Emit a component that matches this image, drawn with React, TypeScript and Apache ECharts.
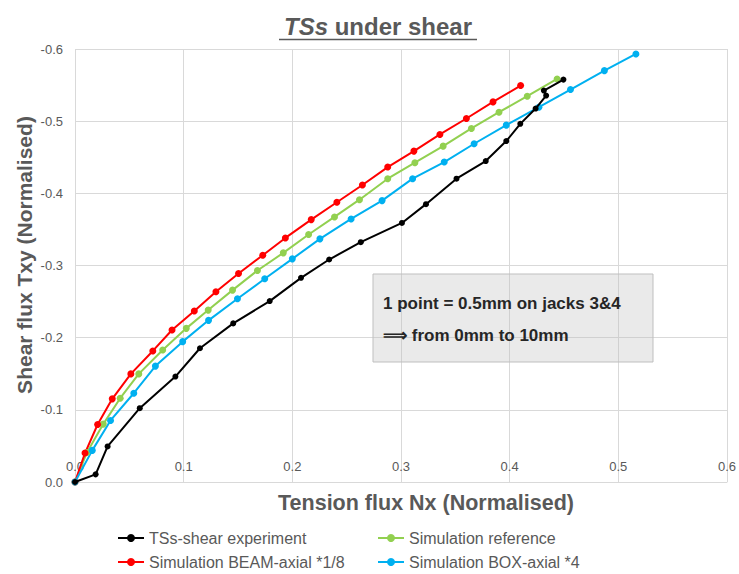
import React, { useEffect, useRef } from "react";
import * as echarts from "echarts";

// ---- Data (x = tension flux Nx, y = shear flux Txy), normalised ----
const experimentData: [number, number][] = [
  [0, 0], [0.019, -0.0106], [0.030, -0.0493], [0.0596, -0.1023], [0.0924, -0.1461],
  [0.115, -0.1853], [0.1456, -0.2198], [0.1792, -0.2507], [0.208, -0.2829],
  [0.2339, -0.3083], [0.263, -0.3323], [0.3009, -0.359], [0.323, -0.385],
  [0.3511, -0.4203], [0.378, -0.4447], [0.3969, -0.4724], [0.4098, -0.4963],
  [0.4239, -0.5175], [0.4336, -0.5355], [0.4315, -0.5424], [0.4495, -0.5576],
];
const referenceData: [number, number][] = [
  [0, 0], [0.011, -0.041], [0.026, -0.0802], [0.0416, -0.1161], [0.0587, -0.1498],
  [0.0807, -0.1829], [0.1024, -0.2129], [0.1226, -0.2382], [0.145, -0.2659],
  [0.1679, -0.2931], [0.1917, -0.3175], [0.215, -0.3429], [0.2388, -0.3673],
  [0.2618, -0.3912], [0.2878, -0.4203], [0.3128, -0.4424], [0.3388, -0.4654],
  [0.3648, -0.4899], [0.3902, -0.5124], [0.4162, -0.5346], [0.4437, -0.5585],
];
const beamData: [number, number][] = [
  [0, 0], [0.0092, -0.0401], [0.0208, -0.0797], [0.0343, -0.1152], [0.0514, -0.1498],
  [0.0716, -0.1816], [0.0893, -0.2106], [0.1098, -0.2369], [0.1297, -0.2636],
  [0.1505, -0.2889], [0.1728, -0.3143], [0.1936, -0.3382], [0.2174, -0.3636],
  [0.241, -0.3876], [0.2645, -0.4115], [0.2878, -0.4364], [0.3119, -0.4585],
  [0.3358, -0.4816], [0.3602, -0.5037], [0.3847, -0.5267], [0.4101, -0.5493],
];
const boxData: [number, number][] = [
  [0, 0], [0.0159, -0.0438], [0.0327, -0.0853], [0.0541, -0.123], [0.074, -0.1606],
  [0.0991, -0.1945], [0.1229, -0.224], [0.1495, -0.2539], [0.1746, -0.2816],
  [0.2, -0.3092], [0.2254, -0.3369], [0.2541, -0.3645], [0.2826, -0.3899],
  [0.3107, -0.4203], [0.3398, -0.4433], [0.3673, -0.4687], [0.3969, -0.4945],
  [0.4269, -0.5194], [0.456, -0.5438], [0.4872, -0.57], [0.5162, -0.5931],
];

const seriesNames = [
  "TSs-shear experiment",
  "Simulation reference",
  "Simulation BEAM-axial *1/8",
  "Simulation BOX-axial *4",
];
const seriesColors = ["#000000", "#92d050", "#ff0000", "#00b0f0"];

const xTitle = "Tension flux Nx (Normalised)";
const yTitle = "Shear flux Txy (Normalised)";
const noteLines = ["1 point = 0.5mm on jacks 3&4", "\u27f9 from 0mm to 10mm"];

const FONT = "'Liberation Sans', Arial, sans-serif";
const GREY = "#595959";

// legend slot positions (left, top) for each series, in series order
const legendSlots: [number, number][] = [
  [117, 530],
  [377, 530],
  [117, 554],
  [377, 554],
];

export default function App() {
  const ref = useRef<HTMLDivElement>(null);

  useEffect(() => {
    if (!ref.current) return;
    const chart = echarts.init(ref.current, undefined, { renderer: "svg" });
    const datasets = [experimentData, referenceData, beamData, boxData];

    chart.setOption({
      animation: false,
      backgroundColor: "#ffffff",
      textStyle: { fontFamily: FONT },
      grid: { left: 75, right: 10, top: 49, bottom: 92, containLabel: false },
      xAxis: {
        type: "value",
        min: 0,
        max: 0.6,
        interval: 0.1,
        axisLine: { show: true, lineStyle: { color: "#d9d9d9", width: 1 } },
        axisTick: { show: false },
        splitLine: { show: true, lineStyle: { color: "#d9d9d9", width: 1 } },
        axisLabel: {
          inside: true,
          margin: 9,
          color: GREY,
          fontSize: 13,
          fontFamily: FONT,
          formatter: (v: number) => v.toFixed(1),
        },
      },
      yAxis: {
        type: "value",
        min: -0.6,
        max: 0,
        interval: 0.1,
        inverse: true,
        axisLine: { show: false },
        axisTick: { show: false },
        splitLine: { show: true, lineStyle: { color: "#d9d9d9", width: 1 } },
        axisLabel: {
          margin: 12,
          color: GREY,
          fontSize: 13,
          fontFamily: FONT,
          formatter: (v: number) => (Math.abs(v) < 1e-9 ? "0.0" : v.toFixed(1)),
        },
      },
      legend: seriesNames.map((n, i) => ({
        data: [n],
        left: legendSlots[i][0],
        top: legendSlots[i][1],
        itemWidth: 26,
        itemHeight: 10,
        itemGap: 0,
        padding: 0,
        textStyle: { color: GREY, fontSize: 16, fontFamily: FONT },
      })),
      series: datasets.map((d, i) => ({
        name: seriesNames[i],
        type: "line",
        data: d,
        symbol: "circle",
        symbolSize: i === 0 ? 6 : 7,
        showSymbol: true,
        lineStyle: { color: seriesColors[i], width: 2 },
        itemStyle: { color: seriesColors[i] },
        z: i === 0 ? 5 : 3,
      })),
      graphic: [
        {
          type: "text",
          x: 378,
          y: 26,
          style: {
            text: "{a|TSs} under shear",
            rich: {
              a: {
                fontStyle: "italic",
                fontWeight: "bold",
                fontSize: 24,
                fontFamily: FONT,
                fill: GREY,
              },
            },
            fontSize: 24,
            fontWeight: "bold",
            fontFamily: FONT,
            fill: GREY,
            align: "center",
            verticalAlign: "middle",
          },
        },
        {
          type: "line",
          shape: { x1: 279, y1: 39.5, x2: 477, y2: 39.5 },
          style: { stroke: GREY, lineWidth: 1.5 },
        },
        {
          type: "text",
          x: 24,
          y: 255,
          rotation: Math.PI / 2,
          style: {
            text: yTitle,
            fontSize: 21,
            fontWeight: "bold",
            fontFamily: FONT,
            fill: GREY,
            align: "center",
            verticalAlign: "middle",
          },
        },
        {
          type: "text",
          x: 426,
          y: 503,
          style: {
            text: xTitle,
            fontSize: 21.5,
            fontWeight: "bold",
            fontFamily: FONT,
            fill: GREY,
            align: "center",
            verticalAlign: "middle",
          },
        },
        {
          type: "rect",
          shape: { x: 373, y: 274, width: 280, height: 88 },
          style: { fill: "rgba(190,190,190,0.32)", stroke: "#bfbfbf", lineWidth: 1 },
          z: 10,
        },
        {
          type: "text",
          x: 383,
          y: 303,
          style: {
            text: noteLines[0],
            fontSize: 17,
            fontWeight: "bold",
            fontFamily: FONT,
            fill: "#262626",
            align: "left",
            verticalAlign: "middle",
          },
          z: 11,
        },
        {
          type: "text",
          x: 383,
          y: 335,
          style: {
            text: noteLines[1],
            fontSize: 17,
            fontWeight: "bold",
            fontFamily: FONT,
            fill: "#262626",
            align: "left",
            verticalAlign: "middle",
          },
          z: 11,
        },
      ],
    });

    return () => chart.dispose();
  }, []);

  return (
    <div
      ref={ref}
      style={{ position: "absolute", left: 0, top: 0, width: 739, height: 574 }}
    />
  );
}
